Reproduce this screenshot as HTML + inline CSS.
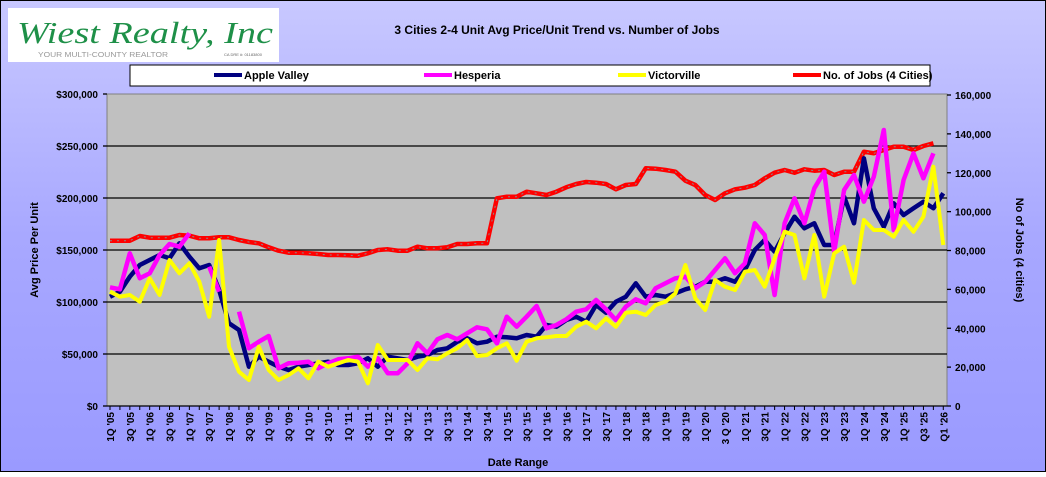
<!DOCTYPE html>
<html><head><meta charset="utf-8"><style>
body{margin:0;width:1046px;height:472px;overflow:hidden;font-family:"Liberation Sans",Arial,sans-serif}
</style></head><body>
<svg id="s" width="1046" height="472" xmlns="http://www.w3.org/2000/svg" font-family="Liberation Sans, Arial, sans-serif">
<defs><linearGradient id="bg" x1="0" y1="0" x2="0" y2="1"><stop offset="0" stop-color="#c8c8ff"/><stop offset="0.5" stop-color="#a8a8ff"/><stop offset="1" stop-color="#9a9aff"/></linearGradient></defs>
<rect x="0.5" y="0.5" width="1045" height="471" fill="url(#bg)" stroke="#000"/>
<rect x="8" y="8" width="271" height="54" fill="#fff"/>
<text x="17" y="43" font-family="Liberation Serif, serif" font-style="italic" font-size="31" fill="#1e9048" textLength="256" lengthAdjust="spacingAndGlyphs">Wiest Realty, Inc</text>
<text x="38" y="57" font-size="7.5" fill="#999" textLength="130" lengthAdjust="spacingAndGlyphs">YOUR MULTI-COUNTY REALTOR</text>
<text x="224" y="56" font-size="4" fill="#666">CA DRE #: 01183800</text>
<text x="557" y="34" text-anchor="middle" font-size="12" font-weight="bold">3 Cities  2-4 Unit Avg Price/Unit Trend vs. Number of Jobs</text>
<rect x="130" y="65" width="800" height="21" fill="#fff" stroke="#000"/>
<g font-size="11" font-weight="bold">
<line x1="214" y1="75" x2="242" y2="75" stroke="#000080" stroke-width="4"/><text x="244" y="79">Apple Valley</text>
<line x1="424" y1="75" x2="452" y2="75" stroke="#ff00ff" stroke-width="4"/><text x="454" y="79">Hesperia</text>
<line x1="618" y1="75" x2="646" y2="75" stroke="#ffff00" stroke-width="4"/><text x="648" y="79">Victorville</text>
<line x1="793" y1="75" x2="821" y2="75" stroke="#ff0000" stroke-width="4"/><text x="823" y="79">No. of Jobs (4 Cities)</text>
</g>
<rect x="107" y="94" width="840" height="312" fill="#c0c0c0" stroke="#808080"/>
<g id="grid" stroke="#000" stroke-width="1.3"></g>
<g id="lab" font-size="10" font-weight="bold"></g>
<g id="ser" fill="none" stroke-linejoin="round"></g>
<text x="518" y="466" text-anchor="middle" font-size="11" font-weight="bold">Date Range</text>
<text transform="translate(38,250) rotate(-90)" text-anchor="middle" font-size="11" font-weight="bold">Avg Price Per Unit</text>
<text transform="translate(1016,250) rotate(90)" text-anchor="middle" font-size="11" font-weight="bold">No of Jobs (4 cities)</text>
</svg>
<script>
var NS="http://www.w3.org/2000/svg";
function el(p,t,a,txt){var e=document.createElementNS(NS,t);for(var k in a)e.setAttribute(k,a[k]);if(txt!=null)e.textContent=txt;document.getElementById(p).appendChild(e);return e;}
var gy=[94,146,198,250,302,354,406];
var pl=["$300,000","$250,000","$200,000","$150,000","$100,000","$50,000","$0"];
for(var i=0;i<7;i++){ if(i>0&&i<6) el("grid","line",{x1:107,y1:gy[i],x2:947,y2:gy[i]});
 el("grid","line",{x1:103,y1:gy[i],x2:107,y2:gy[i]});
 el("lab","text",{x:98,y:gy[i]+4,"text-anchor":"end"},pl[i]);}
for(var i=0;i<=8;i++){var y=406-i*311/8;el("grid","line",{x1:947,y1:y,x2:951,y2:y});
 el("lab","text",{x:955,y:y+4},i==0?"0":(i*20)+",000");}
el("grid","line",{x1:107,y1:406,x2:947,y2:406});
function X(i){return 110+9.92*i;}
for(var i=0;i<=84;i++){el("grid","line",{x1:X(i),y1:406,x2:X(i),y2:410,"stroke-width":1});}
for(var i=0;i<=84;i+=2){var yr=5+Math.floor(i/4),q=(i%4==0)?1:3;var s=(yr<10?"0":"")+yr;var t=q+"Q '"+s;
 if(i==62)t="3 Q '20"; if(i==82)t="Q3 '25"; if(i==84)t="Q1 '26";
 el("lab","text",{transform:"translate("+(X(i)+4)+",412) rotate(-90)","text-anchor":"end"},t);}
var red=[452,452,452,438,443,443,443,435,437,445,445,442,442,450,456,460,472,482,488,488,490,492,495,495,496,497,490,480,478,482,482,470,475,475,472,462,462,460,460,325,320,320,305,310,315,305,292,282,276,278,282,298,285,282,235,236,240,245,272,285,315,330,310,298,293,285,265,248,240,248,238,242,240,255,245,245,185,190,180,170,170,180,168,160];
var navy=[620,605,560,525,510,495,505,460,500,535,525,600,700,720,830,800,815,830,840,830,825,820,815,825,825,820,805,830,800,805,810,800,795,780,775,755,745,760,755,740,742,745,735,740,705,710,690,680,695,645,668,635,620,580,620,615,620,610,598,590,575,575,565,575,540,480,450,485,430,380,415,400,465,465,320,400,205,355,410,340,375,355,335,355,310];
var mag=[592,598,490,565,550,495,462,470,430,null,530,605,null,665,775,755,738,835,820,818,815,835,820,808,805,800,830,805,850,850,820,760,790,748,735,748,730,712,718,760,680,710,680,648,715,705,688,665,658,630,658,690,650,628,640,595,580,565,560,595,575,540,505,550,520,400,435,615,400,325,400,295,245,485,300,255,335,260,120,420,270,190,265,190];
var yel=[605,620,615,635,565,615,510,550,520,575,680,450,770,845,870,770,840,870,855,835,865,815,830,820,810,815,880,765,810,810,810,840,805,808,790,775,750,798,795,775,760,812,755,745,742,738,738,710,695,715,685,710,668,665,675,645,635,610,525,625,660,570,590,600,545,540,590,505,425,435,565,435,620,490,470,578,390,420,420,440,390,425,380,230,465];
function draw(arr,col,w,extra){var d="",pen=false;for(var i=0;i<arr.length;i++){if(arr[i]==null){pen=false;continue;}var y=90+arr[i]/3;d+=(pen?"L":"M")+X(i).toFixed(1)+","+y.toFixed(1);pen=true;}
 var a={d:d,stroke:col,"stroke-width":w};for(var k in extra)a[k]=extra[k];el("ser","path",a);}
draw(red,"#ff0000",4.5);
draw(red,"#888888",1,{"stroke-dasharray":"2 5"});
draw(navy,"#000080",4.5);
draw(mag,"#ff00ff",4.5);
draw(yel,"#ffff00",4);
</script>
</body></html>
